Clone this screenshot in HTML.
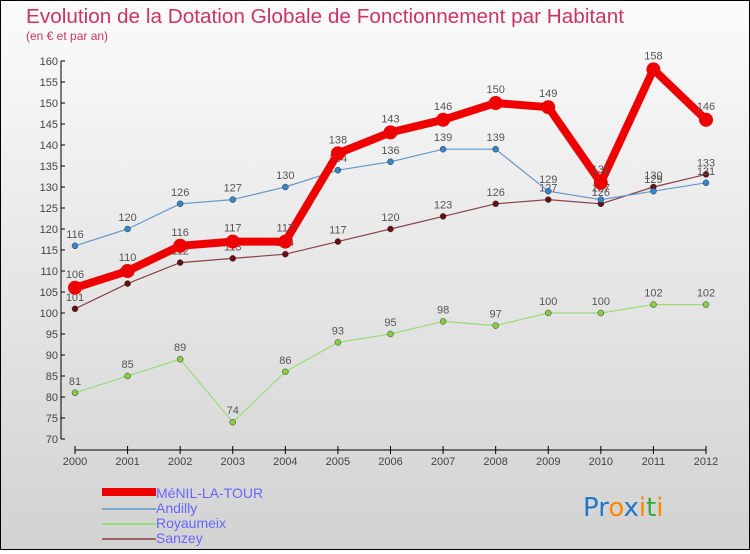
<!DOCTYPE html>
<html><head><meta charset="utf-8"><style>
html,body{margin:0;padding:0}
body{width:750px;height:550px;overflow:hidden;font-family:"Liberation Sans",sans-serif}
#wrap{position:relative;width:748px;height:548px;border:1px solid #000;background:linear-gradient(#fbfbfb,#d2d2d2)}
</style></head><body>
<div id="wrap">
<svg id="chart" width="748" height="548" xmlns="http://www.w3.org/2000/svg">
<text x="25" y="22" font-size="20" fill="#cc3366" textLength="598" lengthAdjust="spacingAndGlyphs">Evolution de la Dotation Globale de Fonctionnement par Habitant</text>
<text x="25" y="39" font-size="12" fill="#cc3366">(en € et par an)</text>
<g id="axes"></g>
<g id="series"></g>
<g>
<rect x="101" y="487" width="54" height="8" fill="#ee0000"/>
<text x="155" y="497" font-size="14" fill="#6666ff">MéNIL-LA-TOUR</text>
<rect x="101" y="507" width="54" height="2" fill="#7aa6d0"/>
<text x="155" y="512" font-size="14" fill="#6666ff">Andilly</text>
<rect x="101" y="522" width="54" height="2" fill="#99dd77"/>
<text x="155" y="527" font-size="14" fill="#6666ff">Royaumeix</text>
<rect x="101" y="537" width="54" height="2" fill="#996666"/>
<text x="155" y="542" font-size="14" fill="#6666ff">Sanzey</text>
</g>
<g font-size="26" font-family="'DejaVu Sans',sans-serif">
<text x="582" y="515"><tspan fill="#2277cc">Pr</tspan><tspan fill="#ff8800">o</tspan><tspan fill="#2277cc">x</tspan><tspan fill="#ff8800">i</tspan><tspan fill="#33aa33">t</tspan><tspan fill="#ff8800">i</tspan></text>
</g>
</svg>
</div>
<script>
const years=["2000","2001","2002","2003","2004","2005","2006","2007","2008","2009","2010","2011","2012"];
const menil=[106,110,116,117,117,138,143,146,150,149,131,158,146];
const andilly=[116,120,126,127,130,134,136,139,139,129,127,129,131];
const royaumeix=[81,85,89,74,86,93,95,98,97,100,100,102,102];
const sanzey=[101,107,112,113,114,117,120,123,126,127,126,130,133];
const yTicks=[70,75,80,85,90,95,100,105,110,115,120,125,130,135,140,145,150,155,160];
const NS="http://www.w3.org/2000/svg";
function xs(i){return 74+i*(705-74)/(years.length-1);}
function ys(v){return 438-(v-70)*(438-60)/90;}
function mk(tag,attrs,parent){const e=document.createElementNS(NS,tag);for(const k in attrs)e.setAttribute(k,attrs[k]);parent.appendChild(e);return e;}
const axes=document.getElementById('axes');
let yl=mk('line',{x1:60,y1:60,x2:60,y2:438,stroke:'#000'},axes);


yTicks.forEach(t=>{
 const y=ys(t);
 mk('line',{x1:60,y1:y,x2:64,y2:y,stroke:'#000'},axes);
 const tx=mk('text',{x:57,y:y+4,'font-size':11,fill:'#444','text-anchor':'end'},axes);
 tx.textContent=t;
 
 
});
let xl=mk('line',{x1:74,y1:449,x2:705,y2:449,stroke:'#000'},axes);


years.forEach((yr,i)=>{
 mk('line',{x1:xs(i),y1:445,x2:xs(i),y2:453,stroke:'#000'},axes);
 const tx=mk('text',{x:xs(i),y:464,'font-size':11,fill:'#444','text-anchor':'middle'},axes);
 tx.textContent=yr;
 
 
});
const g=document.getElementById('series');
function draw(data,color,dot,w,r,name){
 const grp=mk('g',{},g);
 
 
 const pl=mk('polyline',{points:data.map((v,i)=>xs(i)+','+ys(v)).join(' '),fill:'none',stroke:color,'stroke-width':w,'stroke-linejoin':'round'},grp);
 
 
 data.forEach((v,i)=>{
  const c=mk('circle',{cx:xs(i),cy:ys(v),r:r,fill:dot,stroke:'#333','stroke-width':r>5?0:0.5},grp);
  
  
  const t=mk('text',{x:xs(i),y:ys(v)-(r>5?10:8),'font-size':11,fill:'#555','text-anchor':'middle'},grp);
  t.textContent=v;
  
  
 });
}
draw(royaumeix,'#99dd77','#88cc44',1.2,3,'royaumeix');
draw(sanzey,'#884444','#661111',1.2,3,'sanzey');
draw(andilly,'#6699cc','#3388cc',1.2,3,'andilly');
draw(menil,'#ee0000','#ee0000',8,7,'menil');
</script>
</body></html>
